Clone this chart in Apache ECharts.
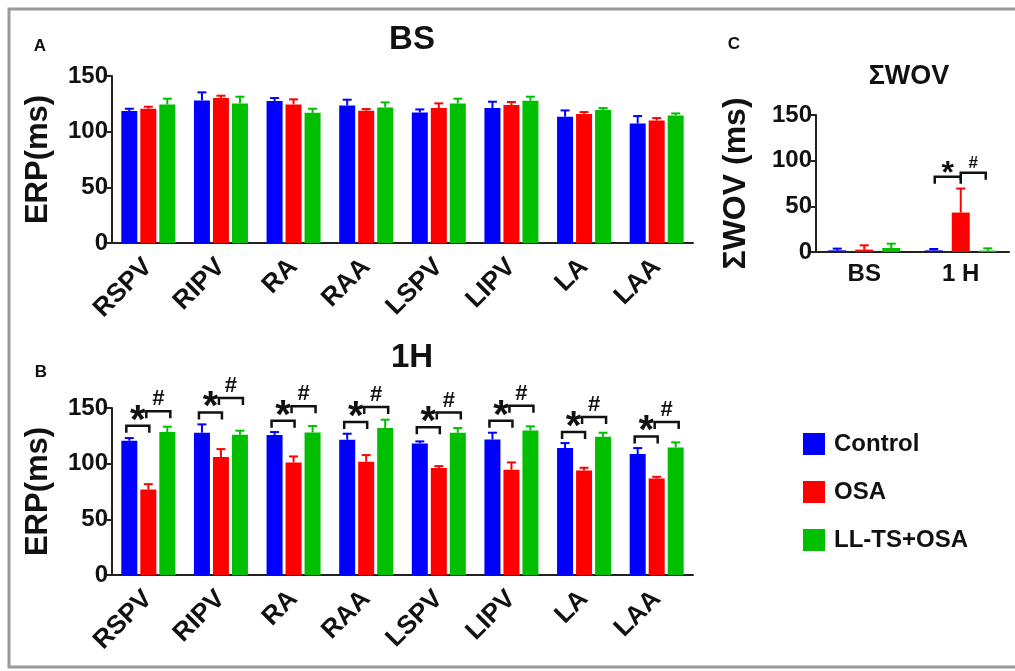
<!DOCTYPE html>
<html>
<head>
<meta charset="utf-8">
<script src="https://cdn.jsdelivr.net/npm/echarts@6/dist/echarts.min.js"></script>
<style>html,body{margin:0;padding:0;background:#fff}#c{width:1015px;height:671px}</style>
</head>
<body>
<div id="c"></div>
<script>
// ---- data ----
const categories = ['RSPV','RIPV','RA','RAA','LSPV','LIPV','LA','LAA'];
const seriesNames = ['Control','OSA','LL-TS+OSA'];
// Panel A: BS
const bsControl = [118.5,128.1,127.5,123.6,117.3,121.2,113.4,107.4];
const bsControlErr = [2.1,7.2,2.7,5.1,2.7,5.7,5.7,6.6];
const bsOSA = [120.6,130.2,124.5,118.8,121.2,123.9,115.8,110.1];
const bsOSAErr = [1.8,2.1,4.5,1.5,4.2,2.7,1.8,2.1];
const bsLLTS = [124.5,125.4,117.0,121.8,125.4,127.8,119.4,114.6];
const bsLLTSErr = [5.1,6.0,3.6,4.5,4.2,3.6,1.8,1.8];
// Panel B: 1H
const h1Control = [120.6,127.8,125.7,121.5,118.2,121.8,114.0,108.6];
const h1ControlErr = [2.4,7.5,2.7,5.4,1.8,6.0,4.5,5.4];
const h1OSA = [76.8,105.9,101.1,101.7,96.0,94.5,93.9,86.7];
const h1OSAErr = [4.8,7.2,5.4,6.0,1.8,6.6,2.4,1.5];
const h1LLTS = [128.4,126.0,128.1,132.0,127.8,129.9,124.2,114.6];
const h1LLTSErr = [4.8,3.6,5.7,7.5,4.2,3.6,3.6,4.5];
const h1StarY = [134.0,146.0,138.6,137.4,132.6,138.6,128.4,124.5];
const h1HashY = [147.0,159.0,151.5,150.9,146.0,152.0,141.9,137.4];
// Panel C: ΣWOV
const wovCategories = ['BS','1 H'];
const wovControl = [1.8,1.8];
const wovControlErr = [1.9,1.5];
const wovOSA = [2.6,43.2];
const wovOSAErr = [4.7,26.3];
const wovLLTS = [4.4,1.5];
const wovLLTSErr = [4.7,2.5];
const wovStarY = [null,82.3];
const wovHashY = [null,86.7];
const yTicks = [0,50,100,150];

// ---- style ----
const COLORS = ['#0000ff','#ff0000','#00bf00'];
const FONT = "'Liberation Sans', Arial, Helvetica, sans-serif";
const INK = '#111';
const AXIS = '#222';

const chart = echarts.init(document.getElementById('c'), null, {renderer:'canvas'});

function errSeries(gi, vals, errs, color, offset){
  return {
    type:'custom', name:'err'+gi+color, xAxisIndex:gi, yAxisIndex:gi, z:3,
    data: vals.map((v,i)=>[i, v, v+errs[i]]),
    renderItem:(params, api)=>{
      const b = api.coord([api.value(0), api.value(1)]);
      const t = api.coord([api.value(0), api.value(2)]);
      const x = b[0]+offset;
      return {type:'group', children:[
        {type:'line', shape:{x1:x,y1:b[1],x2:x,y2:t[1]}, style:{stroke:color,lineWidth:2}},
        {type:'line', shape:{x1:x-4.5,y1:t[1],x2:x+4.5,y2:t[1]}, style:{stroke:color,lineWidth:2}}
      ]};
    }
  };
}
function bracketSeries(gi, starY, hashY, o){
  return {
    type:'custom', name:'br'+gi, xAxisIndex:gi, yAxisIndex:gi, z:4, clip:false,
    data: starY.map((s,i)=> s==null ? null : [i, s, hashY[i]]).filter(d=>d),
    renderItem:(params, api)=>{
      const s = api.coord([api.value(0), api.value(1)]);
      const h = api.coord([api.value(0), api.value(2)]);
      const cx = s[0];
      const sx1 = cx+o.s1, sx2 = cx+o.s2, hx1 = cx+o.h1, hx2 = cx+o.h2;
      const ys = s[1], yh = h[1];
      const ls = {stroke:'#111', lineWidth:2.5, fill:null};
      return {type:'group', children:[
        {type:'polyline', shape:{points:[[sx1,ys+o.drop],[sx1,ys],[sx2,ys],[sx2,ys+o.drop]]}, style:ls},
        {type:'polyline', shape:{points:[[hx1,yh+o.drop],[hx1,yh],[hx2,yh],[hx2,yh+o.drop]]}, style:ls},
        {type:'text', x:(sx1+sx2)/2, y:ys-o.starDy, style:{text:'*', fontSize:o.starSize, fontWeight:'bold', fontFamily:FONT, fill:'#111', align:'center', verticalAlign:'middle'}},
        {type:'text', x:(hx1+hx2)/2, y:yh-o.hashDy, style:{text:'#', fontSize:o.hashSize, fontWeight:'bold', fontFamily:FONT, fill:'#111', align:'center', verticalAlign:'middle'}}
      ]};
    }
  };
}

const grids = [
  {left:112, top:76, width:581, height:167},
  {left:112, top:408, width:581, height:167},
  {left:816, top:115, width:193, height:137}
];
function xAxis(gi, data){
  return {type:'category', gridIndex:gi, data:data,
    axisLine:{lineStyle:{color:AXIS,width:2}},
    axisTick:{alignWithLabel:true, length:5, lineStyle:{color:AXIS,width:2}},
    axisLabel:{rotate: gi===2?0:45, margin: gi===2?10:20, fontSize: gi===2?24:26, fontWeight:'bold', fontFamily:FONT, color:INK, interval:0}
  };
}
function yAxis(gi, name, gap, nsize){
  return {type:'value', gridIndex:gi, min:0, max:150, interval:50,
    name:name, nameLocation:'middle', nameGap:gap,
    nameTextStyle:{fontSize:nsize, fontWeight:'bold', fontFamily:FONT, color:INK},
    splitLine:{show:false},
    axisLine:{show:true, lineStyle:{color:AXIS,width:2}},
    axisTick:{show:true, length:5, lineStyle:{color:AXIS,width:2}},
    axisLabel:{margin:4, fontSize:24, fontWeight:'bold', fontFamily:FONT, color:INK}
  };
}
function bars(gi, arrs, bw, gap){
  return arrs.map((a,k)=>({type:'bar', name:seriesNames[k], xAxisIndex:gi, yAxisIndex:gi, data:a,
    barWidth:bw, barGap:gap, itemStyle:{color:COLORS[k]}, z:2}));
}

const series = [
  ...bars(0,[bsControl,bsOSA,bsLLTS],16,'18.75%'),
  ...bars(1,[h1Control,h1OSA,h1LLTS],16,'18.75%'),
  ...bars(2,[wovControl,wovOSA,wovLLTS],18,'50%'),
  errSeries(0,bsControl,bsControlErr,COLORS[0],-19),
  errSeries(0,bsOSA,bsOSAErr,COLORS[1],0),
  errSeries(0,bsLLTS,bsLLTSErr,COLORS[2],19),
  errSeries(1,h1Control,h1ControlErr,COLORS[0],-19),
  errSeries(1,h1OSA,h1OSAErr,COLORS[1],0),
  errSeries(1,h1LLTS,h1LLTSErr,COLORS[2],19),
  errSeries(2,wovControl,wovControlErr,COLORS[0],-27),
  errSeries(2,wovOSA,wovOSAErr,COLORS[1],0),
  errSeries(2,wovLLTS,wovLLTSErr,COLORS[2],27),
  bracketSeries(1,h1StarY,h1HashY,{s1:-22,s2:1,h1:-2,h2:22,drop:7,starSize:40,hashSize:22,starDy:4,hashDy:12}),
  bracketSeries(2,wovStarY,wovHashY,{s1:-26,s2:0,h1:0,h2:25,drop:7,starSize:32,hashSize:17,starDy:3,hashDy:10})
];

function txt(t,x,y,size){
  return {type:'text', x:x, y:y, style:{text:t, fontSize:size, fontWeight:'bold', fontFamily:FONT, fill:INK, align:'center', verticalAlign:'middle'}};
}

chart.setOption({
  animation:false,
  backgroundColor:'#fff',
  grid:grids,
  xAxis:[xAxis(0,categories), xAxis(1,categories), xAxis(2,wovCategories)],
  yAxis:[yAxis(0,'ERP(ms)',58,31), yAxis(1,'ERP(ms)',58,31), yAxis(2,'ΣWOV (ms)',64,32)],
  legend:{orient:'vertical', left:798, top:427, itemWidth:22, itemHeight:22, itemGap:24, icon:'rect',
    data:seriesNames, selectedMode:false,
    textStyle:{fontSize:24, fontWeight:'bold', fontFamily:FONT, color:INK, padding:[0,0,0,4]}},
  graphic:[
    {type:'rect', shape:{x:9, y:9, width:1030, height:658}, style:{fill:null, stroke:'#9a9a9a', lineWidth:3}, silent:true},
    txt('BS',412,40,33),
    txt('1H',412,358,33),
    txt('ΣWOV',909,77,27),
    txt('A',40,46,17),
    txt('B',41,372,17),
    txt('C',734,44,17)
  ],
  series:series
});
</script>
</body>
</html>
